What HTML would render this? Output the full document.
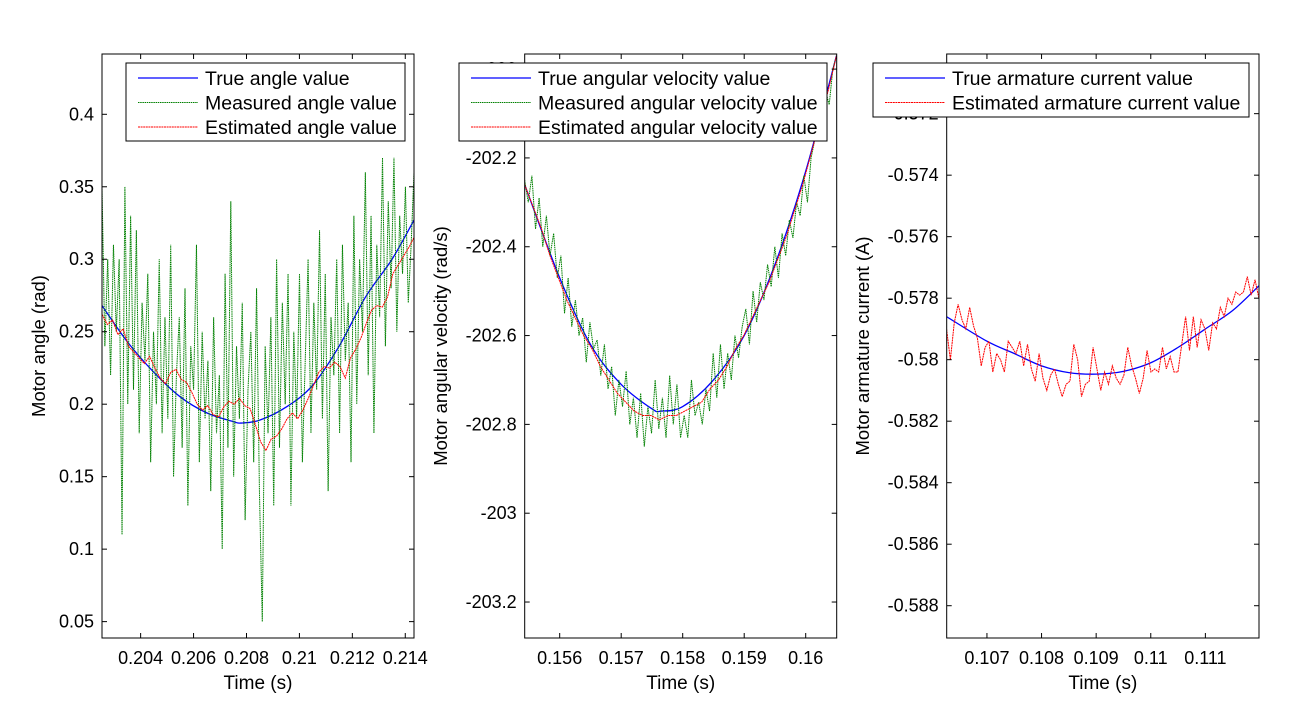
<!DOCTYPE html>
<html><head><meta charset="utf-8"><style>
html,body{margin:0;padding:0;background:#fff;}
svg{display:block;font-family:"Liberation Sans",Arial,sans-serif;}
</style></head><body>
<svg id="fig" width="1292" height="718" viewBox="0 0 1292 718" xmlns="http://www.w3.org/2000/svg"></svg>
<script>
// ---- Panel 1: motor angle ----
const angleTrueT = [0.20254,0.2035,0.2045,0.2055,0.2065,0.2075,0.2078,0.2085,0.2095,0.2105,0.2115,0.2125,0.2135,0.21433];
const angleTrueV = [0.268,0.243,0.222,0.205,0.194,0.188,0.187,0.189,0.198,0.213,0.240,0.274,0.300,0.327];
const angleMeasStart = 0.20254, angleMeasEnd = 0.21433;
const angleMeas = [0.35,0.24,0.30,0.22,0.31,0.25,0.30,0.11,0.35,0.20,0.33,0.21,0.32,0.18,0.27,0.23,0.29,0.16,0.25,0.20,0.30,0.18,0.26,0.19,0.31,0.15,0.22,0.26,0.17,0.28,0.13,0.24,0.21,0.31,0.16,0.25,0.19,0.23,0.14,0.26,0.18,0.22,0.10,0.29,0.17,0.34,0.15,0.24,0.19,0.27,0.12,0.21,0.25,0.16,0.28,0.14,0.05,0.24,0.18,0.26,0.13,0.30,0.17,0.27,0.20,0.29,0.13,0.25,0.19,0.29,0.16,0.23,0.30,0.18,0.27,0.21,0.32,0.19,0.29,0.14,0.26,0.22,0.30,0.18,0.31,0.23,0.27,0.16,0.33,0.20,0.30,0.25,0.36,0.22,0.33,0.18,0.31,0.26,0.37,0.24,0.34,0.28,0.37,0.25,0.33,0.29,0.35,0.27,0.31,0.36];
const angleEstStart = 0.20254, angleEstEnd = 0.21433;
const angleEst = [0.262,0.255,0.258,0.248,0.252,0.240,0.236,0.232,0.228,0.233,0.225,0.218,0.214,0.222,0.224,0.217,0.215,0.208,0.200,0.196,0.199,0.193,0.191,0.198,0.202,0.200,0.204,0.199,0.197,0.186,0.174,0.168,0.176,0.178,0.183,0.190,0.194,0.190,0.196,0.204,0.213,0.222,0.226,0.225,0.229,0.226,0.218,0.232,0.238,0.246,0.256,0.265,0.268,0.267,0.274,0.290,0.296,0.302,0.308,0.315];
const angleXTicks = [0.204,0.206,0.208,0.21,0.212,0.214];
const angleXTickLabels = ["0.204","0.206","0.208","0.21","0.212","0.214"];
const angleYTicks = [0.05,0.1,0.15,0.2,0.25,0.3,0.35,0.4];
const angleYTickLabels = ["0.05","0.1","0.15","0.2","0.25","0.3","0.35","0.4"];

// ---- Panel 2: angular velocity ----
const velTrueT = [0.15543,0.156,0.1565,0.157,0.1575,0.15765,0.158,0.1585,0.159,0.1595,0.16,0.1605];
const velTrueV = [-202.26,-202.47,-202.62,-202.71,-202.765,-202.77,-202.76,-202.70,-202.60,-202.44,-202.23,-201.97];
const velMeasStart = 0.15543, velMeasEnd = 0.16050;
const velMeas = [-202.25,-202.30,-202.24,-202.36,-202.29,-202.40,-202.33,-202.42,-202.37,-202.47,-202.42,-202.55,-202.47,-202.58,-202.52,-202.60,-202.56,-202.66,-202.57,-202.63,-202.61,-202.69,-202.62,-202.72,-202.67,-202.78,-202.70,-202.76,-202.68,-202.80,-202.74,-202.83,-202.73,-202.85,-202.76,-202.82,-202.70,-202.81,-202.74,-202.83,-202.69,-202.80,-202.71,-202.83,-202.78,-202.83,-202.70,-202.78,-202.75,-202.80,-202.72,-202.77,-202.64,-202.74,-202.62,-202.72,-202.64,-202.70,-202.60,-202.65,-202.58,-202.54,-202.62,-202.50,-202.57,-202.48,-202.52,-202.44,-202.49,-202.40,-202.47,-202.37,-202.42,-202.34,-202.38,-202.30,-202.33,-202.24,-202.30,-202.20,-202.16,-202.10,-202.13,-202.05,-202.08,-202.00,-201.97];
const velEstStart = 0.15543, velEstEnd = 0.16050;
const velEst = [-202.26,-202.31,-202.36,-202.42,-202.47,-202.52,-202.56,-202.60,-202.63,-202.67,-202.70,-202.73,-202.75,-202.77,-202.78,-202.78,-202.79,-202.78,-202.78,-202.77,-202.76,-202.75,-202.72,-202.70,-202.67,-202.63,-202.60,-202.56,-202.52,-202.48,-202.43,-202.38,-202.32,-202.26,-202.19,-202.12,-202.05,-201.97];
const velXTicks = [0.156,0.157,0.158,0.159,0.16];
const velXTickLabels = ["0.156","0.157","0.158","0.159","0.16"];
const velYTicks = [-203.2,-203,-202.8,-202.6,-202.4,-202.2,-202];
const velYTickLabels = ["-203.2","-203","-202.8","-202.6","-202.4","-202.2","-202"];

// ---- Panel 3: armature current ----
const curTrueT = [0.10626,0.107,0.1075,0.108,0.1085,0.109,0.1095,0.11,0.1105,0.111,0.1115,0.11198];
const curTrueV = [-0.5786,-0.5794,-0.5798,-0.5802,-0.58042,-0.58047,-0.58038,-0.5801,-0.5796,-0.5790,-0.5784,-0.5776];
const curEstStart = 0.10626, curEstEnd = 0.11198;
const curEst = [-0.5790,-0.5800,-0.5788,-0.5782,-0.5787,-0.5790,-0.5783,-0.5789,-0.5793,-0.5802,-0.5796,-0.5794,-0.5804,-0.5798,-0.5800,-0.5804,-0.5794,-0.5796,-0.5798,-0.5794,-0.5802,-0.5795,-0.5803,-0.5807,-0.5798,-0.5806,-0.5810,-0.5805,-0.5803,-0.5808,-0.5812,-0.5808,-0.5807,-0.5795,-0.5800,-0.5812,-0.5808,-0.5807,-0.5796,-0.5803,-0.5810,-0.5804,-0.5808,-0.5802,-0.5806,-0.5808,-0.5805,-0.5796,-0.5802,-0.5806,-0.5811,-0.5806,-0.5797,-0.5804,-0.5803,-0.5804,-0.5796,-0.5803,-0.5799,-0.5804,-0.5804,-0.5795,-0.5786,-0.5797,-0.5786,-0.5796,-0.5787,-0.5790,-0.5797,-0.5788,-0.5790,-0.5783,-0.5786,-0.5780,-0.5782,-0.5778,-0.5779,-0.5778,-0.5773,-0.5779,-0.5774,-0.5780];
const curXTicks = [0.107,0.108,0.109,0.11,0.111];
const curXTickLabels = ["0.107","0.108","0.109","0.11","0.111"];
const curYTicks = [-0.588,-0.586,-0.584,-0.582,-0.58,-0.578,-0.576,-0.574,-0.572];
const curYTickLabels = ["-0.588","-0.586","-0.584","-0.582","-0.58","-0.578","-0.576","-0.574","-0.572"];

const NS = "http://www.w3.org/2000/svg";
const svg = document.getElementById("fig");
function mk(tag, attrs, parent, text){
  const e = document.createElementNS(NS, tag);
  for (const k in attrs) e.setAttribute(k, attrs[k]);
  if (text !== undefined) e.textContent = text;
  (parent||svg).appendChild(e);
  return e;
}
function spread(a,b,n){const r=[];for(let i=0;i<n;i++)r.push(a+(b-a)*i/(n-1));return r;}
function smoothPath(px){
  if (px.length<3) return "M"+px.map(p=>p.join(",")).join("L");
  let d="M"+px[0][0].toFixed(2)+","+px[0][1].toFixed(2);
  for (let i=0;i<px.length-1;i++){
    const p0=px[Math.max(0,i-1)],p1=px[i],p2=px[i+1],p3=px[Math.min(px.length-1,i+2)];
    const c1=[p1[0]+(p2[0]-p0[0])/6,p1[1]+(p2[1]-p0[1])/6];
    const c2=[p2[0]-(p3[0]-p1[0])/6,p2[1]-(p3[1]-p1[1])/6];
    d+="C"+c1.map(v=>v.toFixed(2)).join(",")+" "+c2.map(v=>v.toFixed(2)).join(",")+" "+p2.map(v=>v.toFixed(2)).join(",");
  }
  return d;
}

function panel(cfg){
  const g = mk("g", {});
  
  
  const L=cfg.left,R=cfg.right,T=54,B=638;
  const sx = v => L + (v-cfg.xmin)/(cfg.xmax-cfg.xmin)*(R-L);
  const sy = v => B - (v-cfg.ymin)/(cfg.ymax-cfg.ymin)*(B-T);
  const clip = mk("clipPath",{id:cfg.name+"-clip"},g);
  mk("rect",{x:L,y:T,width:R-L,height:B-T},clip);
  const plot = mk("g",{"clip-path":"url(#"+cfg.name+"-clip)"},g);
  cfg.series.forEach(s=>{
    let el;
    if (s.smooth){
      const px = s.t.map((t,i)=>[sx(t),sy(s.v[i])]);
      el = mk("path",{d:smoothPath(px),fill:"none",stroke:s.color,"stroke-width":s.w||1},plot);
    } else {
      const pts = s.t.map((t,i)=>sx(t).toFixed(2)+","+sy(s.v[i]).toFixed(2)).join(" ");
      el = mk("polyline",{points:pts,fill:"none",stroke:s.color,"stroke-width":s.w||1,"stroke-dasharray":s.dash||"none"},plot);
    }
    
    
  });
  const frame = mk("rect",{x:L,y:T,width:R-L,height:B-T,fill:"none",stroke:"#000","stroke-width":1},g);
  
  
  cfg.xticks.forEach((t,i)=>{
    const x=sx(t);
    mk("line",{x1:x,x2:x,y1:B,y2:B-5,stroke:"#000"},g);
    mk("line",{x1:x,x2:x,y1:T,y2:T+5,stroke:"#000"},g);
    const tx = mk("text",{x:x,y:B+26,"text-anchor":"middle","font-size":18},g,cfg.xlabels[i]);
    
    
  });
  cfg.yticks.forEach((t,i)=>{
    const y=sy(t);
    if (y<T-0.5||y>B+0.5) return;
    mk("line",{x1:L,x2:L+5,y1:y,y2:y,stroke:"#000"},g);
    mk("line",{x1:R,x2:R-5,y1:y,y2:y,stroke:"#000"},g);
    const ty = mk("text",{x:L-8,y:y+6,"text-anchor":"end","font-size":18},g,cfg.ylabels[i]);
    
    
  });
  const xt = mk("text",{x:(L+R)/2,y:689,"text-anchor":"middle","font-size":19},g,"Time (s)");
  
  
  const yt = mk("text",{x:0,y:0,"text-anchor":"middle","font-size":18.5,transform:"translate("+cfg.ytx+",346) rotate(-90)"},g,cfg.ytitle);
  
  
  const lg = mk("g",{},g);
  
  
  const lb = cfg.legend;
  mk("rect",{x:lb.x,y:lb.y,width:lb.w,height:lb.h,fill:"#fff",stroke:"#000","stroke-width":1},lg);
  cfg.series.forEach((s,i)=>{
    const yy = lb.y+15+i*24.5;
    const e = mk("g",{},lg);
    
    
    mk("line",{x1:lb.x+12,x2:lb.x+72,y1:yy,y2:yy,stroke:s.color,"stroke-width":s.w||1,"stroke-dasharray":s.dash||"none"},e);
    mk("text",{x:lb.x+79,y:yy+7,"font-size":19.5},e,s.label);
  });
}

panel({name:"angle-panel",left:102,right:414,xmin:0.20254,xmax:0.21433,ymin:0.0387,ymax:0.4416,
  xticks:angleXTicks,xlabels:angleXTickLabels,yticks:angleYTicks,ylabels:angleYTickLabels,
  ytitle:"Motor angle (rad)",ytx:45,legend:{x:126,y:63,w:279,h:78},
  series:[
   {name:"true-angle-line",label:"True angle value",color:"#0000ff",t:angleTrueT,v:angleTrueV,w:1.3,smooth:true},
   {name:"measured-angle-line",label:"Measured angle value",color:"#008000",t:spread(angleMeasStart,angleMeasEnd,angleMeas.length),v:angleMeas,dash:"1.5 0.7"},
   {name:"estimated-angle-line",label:"Estimated angle value",color:"#ff0000",t:spread(angleEstStart,angleEstEnd,angleEst.length),v:angleEst,dash:"2 0.6"}
  ]});
panel({name:"velocity-panel",left:524.7,right:836.7,xmin:0.155431,xmax:0.160504,ymin:-203.281,ymax:-201.966,
  xticks:velXTicks,xlabels:velXTickLabels,yticks:velYTicks,ylabels:velYTickLabels,
  ytitle:"Motor angular velocity (rad/s)",ytx:447,legend:{x:459,y:63,w:368,h:78},
  series:[
   {name:"true-velocity-line",label:"True angular velocity value",color:"#0000ff",t:velTrueT,v:velTrueV,w:1.3,smooth:true},
   {name:"measured-velocity-line",label:"Measured angular velocity value",color:"#008000",t:spread(velMeasStart,velMeasEnd,velMeas.length),v:velMeas,dash:"1.5 0.7"},
   {name:"estimated-velocity-line",label:"Estimated angular velocity value",color:"#ff0000",t:spread(velEstStart,velEstEnd,velEst.length),v:velEst,dash:"2 0.6"}
  ]});
panel({name:"current-panel",left:946.7,right:1259,xmin:0.106263,xmax:0.111982,ymin:-0.58905,ymax:-0.57006,
  xticks:curXTicks,xlabels:curXTickLabels,yticks:curYTicks,ylabels:curYTickLabels,
  ytitle:"Motor armature current (A)",ytx:869,legend:{x:873,y:63,w:376,h:54},
  series:[
   {name:"true-current-line",label:"True armature current value",color:"#0000ff",t:curTrueT,v:curTrueV,w:1.3,smooth:true},
   {name:"estimated-current-line",label:"Estimated armature current value",color:"#ff0000",t:spread(curEstStart,curEstEnd,curEst.length),v:curEst,dash:"2 0.6"}
  ]});
</script>
</body></html>
